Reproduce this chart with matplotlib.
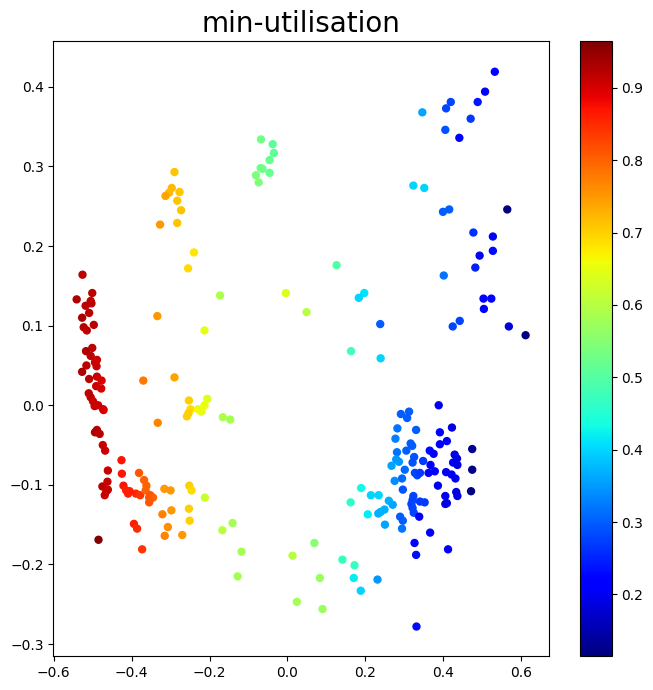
import matplotlib
matplotlib.use('Agg')
import matplotlib.pyplot as plt

# embedding coordinates and min-utilisation values
x = [
    -0.526, -0.501, -0.541, -0.505, -0.518, -0.503, -0.509, -0.527, -0.497, -0.523,
    -0.515, -0.517, -0.501, -0.505, -0.489, -0.494, -0.516, -0.490, -0.527, -0.509,
    -0.489, -0.477, -0.491, -0.478, -0.510, -0.505, -0.499, -0.495, -0.486, -0.473,
    -0.472, -0.489, -0.494, -0.482, -0.474, -0.468, -0.426, -0.461, -0.425, -0.381,
    -0.462, -0.475, -0.465, -0.469, -0.461, -0.421, -0.368, -0.414, -0.409, -0.389,
    -0.378, -0.405, -0.362, -0.364, -0.352, -0.355, -0.345, -0.355, -0.333, -0.316,
    -0.300, -0.252, -0.246, -0.212, -0.298, -0.321, -0.253, -0.251, -0.307, -0.315,
    -0.270, -0.394, -0.386, -0.485, -0.373,
    -0.173, -0.334, -0.213, -0.370, -0.290, -0.253, -0.249, -0.254, -0.258, -0.206,
    -0.213, -0.230, -0.221, -0.166, -0.147, -0.290, -0.297, -0.304, -0.313, -0.277,
    -0.283, -0.273, -0.327, -0.283, -0.240, -0.255,
    -0.068, -0.038, -0.035, -0.046, -0.069, -0.064, -0.046, -0.081, -0.074,
    0.126, -0.004, 0.049, 0.197, 0.183, 0.238, 0.163, 0.239,
    0.323, 0.351, 0.532, 0.507, 0.419, 0.407, 0.488, 0.346, 0.470, 0.405,
    0.441, 0.415, 0.399, 0.564, 0.477, 0.527, 0.527, 0.493, 0.482, 0.401,
    0.503, 0.523, 0.504, 0.442, 0.424, 0.568, 0.611,
    0.388, 0.291, 0.312, 0.307, 0.282, 0.330, 0.391, 0.422, 0.277, 0.409,
    0.316, 0.320, 0.391, 0.281, 0.305, 0.365, 0.375, 0.474, 0.429, 0.435,
    0.425, 0.436, 0.279, 0.286, 0.267, 0.325, 0.321, 0.348, 0.367, 0.301,
    0.327, 0.333, 0.340, 0.362, 0.378, 0.407, 0.421, 0.431, 0.474, 0.294,
    0.275, 0.386, 0.296, 0.471, 0.189, 0.214, 0.234, 0.433, 0.436, 0.405,
    0.323, 0.321, 0.318, 0.340, 0.352, 0.405, 0.409, 0.260, 0.270, 0.162,
    0.206, 0.233, 0.239, 0.249, 0.250, 0.321, 0.324, 0.289, 0.296, 0.338,
    0.294, 0.366, 0.326, 0.330, 0.331, 0.412,
    -0.141, -0.167, -0.118, -0.128, 0.013, 0.069, 0.083, 0.024, 0.090, 0.141,
    0.172, 0.170, 0.188, 0.231,
]
y = [
    0.164, 0.141, 0.133, 0.131, 0.125, 0.128, 0.116, 0.110, 0.101, 0.098,
    0.094, 0.068, 0.072, 0.062, 0.057, 0.054, 0.050, 0.049, 0.042, 0.033,
    0.036, 0.031, 0.024, 0.021, 0.015, 0.010, 0.005, -0.001, 0.000, -0.005,
    -0.006, -0.031, -0.034, -0.036, -0.050, -0.057, -0.069, -0.082, -0.086, -0.085,
    -0.096, -0.102, -0.108, -0.113, -0.106, -0.101, -0.094, -0.107, -0.111, -0.111,
    -0.113, -0.108, -0.101, -0.107, -0.113, -0.116, -0.116, -0.122, -0.022, -0.105,
    -0.107, -0.101, -0.107, -0.116, -0.132, -0.137, -0.130, -0.145, -0.153, -0.164,
    -0.163, -0.149, -0.155, -0.169, -0.181,
    0.138, 0.112, 0.094, 0.031, 0.035, 0.006, -0.005, -0.010, -0.014, 0.008,
    0.000, -0.005, -0.008, -0.015, -0.018, 0.293, 0.273, 0.267, 0.263, 0.268,
    0.257, 0.245, 0.227, 0.229, 0.192, 0.172,
    0.334, 0.328, 0.317, 0.308, 0.298, 0.297, 0.292, 0.289, 0.280,
    0.176, 0.141, 0.117, 0.141, 0.135, 0.102, 0.068, 0.059,
    0.276, 0.273, 0.419, 0.394, 0.381, 0.373, 0.381, 0.368, 0.360, 0.346,
    0.336, 0.246, 0.243, 0.246, 0.217, 0.212, 0.194, 0.188, 0.173, 0.163,
    0.134, 0.134, 0.121, 0.106, 0.099, 0.099, 0.088,
    0.000, -0.011, -0.008, -0.016, -0.029, -0.031, -0.034, -0.028, -0.042, -0.045,
    -0.048, -0.051, -0.049, -0.059, -0.057, -0.057, -0.061, -0.055, -0.062, -0.067,
    -0.072, -0.075, -0.068, -0.071, -0.076, -0.065, -0.072, -0.070, -0.075, -0.081,
    -0.085, -0.088, -0.085, -0.085, -0.083, -0.084, -0.087, -0.092, -0.081, -0.092,
    -0.095, -0.101, -0.106, -0.108, -0.104, -0.113, -0.113, -0.109, -0.114, -0.114,
    -0.114, -0.119, -0.124, -0.121, -0.122, -0.124, -0.123, -0.120, -0.125, -0.122,
    -0.137, -0.136, -0.134, -0.131, -0.150, -0.129, -0.135, -0.140, -0.145, -0.140,
    -0.155, -0.160, -0.173, -0.188, -0.278, -0.181,
    -0.148, -0.157, -0.184, -0.215, -0.189, -0.173, -0.217, -0.247, -0.256, -0.194,
    -0.201, -0.217, -0.233, -0.219,
]
util = [
    0.92, 0.92, 0.93, 0.92, 0.92, 0.92, 0.92, 0.93, 0.92, 0.92,
    0.92, 0.93, 0.92, 0.92, 0.91, 0.91, 0.92, 0.91, 0.93, 0.92,
    0.91, 0.90, 0.91, 0.90, 0.92, 0.92, 0.91, 0.91, 0.91, 0.90,
    0.90, 0.92, 0.93, 0.92, 0.91, 0.91, 0.87, 0.91, 0.87, 0.81,
    0.91, 0.92, 0.91, 0.91, 0.91, 0.87, 0.80, 0.86, 0.86, 0.85,
    0.84, 0.86, 0.80, 0.80, 0.81, 0.81, 0.80, 0.81, 0.77, 0.75,
    0.75, 0.70, 0.69, 0.62, 0.75, 0.77, 0.70, 0.70, 0.76, 0.77,
    0.75, 0.86, 0.85, 0.965, 0.84,
    0.59, 0.75, 0.65, 0.78, 0.74, 0.70, 0.69, 0.70, 0.70, 0.64,
    0.65, 0.66, 0.65, 0.59, 0.58, 0.71, 0.72, 0.72, 0.74, 0.71,
    0.71, 0.71, 0.75, 0.71, 0.68, 0.69,
    0.53, 0.51, 0.51, 0.52, 0.53, 0.53, 0.52, 0.54, 0.54,
    0.50, 0.64, 0.60, 0.41, 0.40, 0.30, 0.48, 0.40,
    0.40, 0.40, 0.21, 0.21, 0.28, 0.28, 0.24, 0.36, 0.27, 0.29,
    0.21, 0.30, 0.30, 0.115, 0.26, 0.21, 0.23, 0.21, 0.25, 0.32,
    0.21, 0.21, 0.21, 0.28, 0.28, 0.19, 0.12,
    0.20, 0.30, 0.30, 0.30, 0.32, 0.30, 0.21, 0.19, 0.33, 0.21,
    0.30, 0.30, 0.21, 0.32, 0.30, 0.23, 0.22, 0.13, 0.19, 0.19,
    0.20, 0.19, 0.35, 0.35, 0.36, 0.29, 0.29, 0.27, 0.22, 0.31,
    0.28, 0.28, 0.27, 0.22, 0.22, 0.20, 0.20, 0.20, 0.12, 0.31,
    0.34, 0.20, 0.29, 0.12, 0.43, 0.40, 0.40, 0.19, 0.19, 0.20,
    0.28, 0.28, 0.28, 0.27, 0.27, 0.19, 0.19, 0.37, 0.36, 0.46,
    0.42, 0.37, 0.37, 0.37, 0.36, 0.28, 0.28, 0.30, 0.30, 0.22,
    0.32, 0.22, 0.22, 0.23, 0.23, 0.20,
    0.58, 0.60, 0.58, 0.58, 0.60, 0.55, 0.57, 0.58, 0.57, 0.47,
    0.47, 0.42, 0.40, 0.35,
]

fig = plt.figure(figsize=(6.53, 6.9), dpi=100)
ax = fig.add_axes([0.0816, 0.0493, 0.7591, 0.8917])
cax = fig.add_axes([0.8882, 0.0493, 0.0485, 0.8917])

sc = ax.scatter(x, y, c=util, cmap='jet', s=25)
ax.set_xlim(-0.601, 0.671)
ax.set_ylim(-0.315, 0.458)
ax.set_title('min-utilisation', fontsize=20)
fig.colorbar(sc, cax=cax)

fig.savefig('out.png', dpi=100)
